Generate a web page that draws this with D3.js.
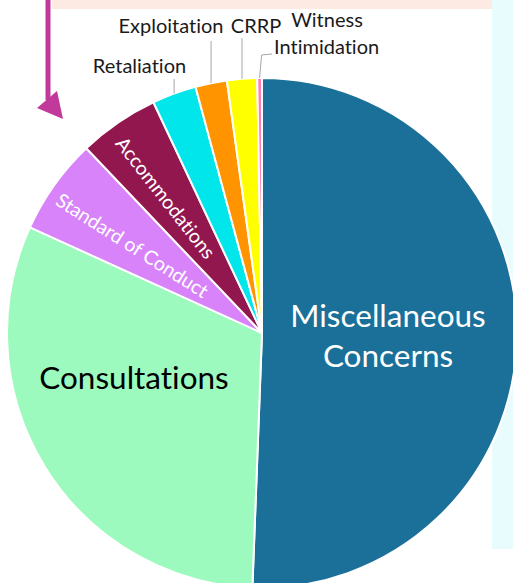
<!DOCTYPE html>
<html>
<head>
<meta charset="utf-8">
<script src="https://cdn.jsdelivr.net/npm/d3@7"></script>
<style>
  html, body { margin: 0; padding: 0; background: #ffffff; }
  svg { display: block; font-family: Lato, "Open Sans", sans-serif; font-variant-ligatures: none; font-feature-settings: "liga" 0, "clig" 0; }
</style>
</head>
<body>
<svg id="chart" width="513" height="583"></svg>
<script>
// ---- data ----
const categories = ["Miscellaneous Concerns", "Consultations", "Standard of Conduct", "Accommodations",
                    "Retaliation", "Exploitation", "CRRP", "Witness Intimidation"];
const values = [50.6, 31.2, 6.1, 5.1, 2.8, 2.0, 1.9, 0.3];
const colors = ["#1a7099", "#9dfabe", "#d883f9", "#93174f", "#00e6ea", "#ff9300", "#ffff00", "#ff7fb0"];

// ---- layout ----
const W = 513, H = 583;
const cx = 262, cy = 333, R = 255;
const svg = d3.select("#chart");

// background decorations
svg.append("rect").attr("x", 52).attr("y", 0).attr("width", 440).attr("height", 9).attr("fill", "#fdebe3");
svg.append("rect").attr("x", 492).attr("y", 0).attr("width", 21).attr("height", 549).attr("fill", "#e8fcfe");

// arrow
svg.append("line").attr("x1", 48).attr("y1", 0).attr("x2", 48).attr("y2", 100)
  .attr("stroke", "#c1399a").attr("stroke-width", 5);
svg.append("path").attr("d", "M37,108 L63,119 L57,91 Z").attr("fill", "#c1399a");

const pie = d3.pie().sort(null).value(d => d).startAngle(0).endAngle(2 * Math.PI);
const arcs = pie(values);
const arc = d3.arc().innerRadius(0).outerRadius(R);

const g = svg.append("g").attr("transform", `translate(${cx},${cy})`);
g.selectAll("path.slice").data(arcs).enter().append("path")
  .attr("class", "slice")
  .attr("d", arc)
  .attr("fill", (d, i) => colors[i])
  .attr("stroke", "#ffffff")
  .attr("stroke-width", 2)
  .attr("stroke-linejoin", "round");

// polar helper (angle clockwise from top)
function pt(a, r) { return [r * Math.sin(a), -r * Math.cos(a)]; }

// ---- inside labels ----
const misc = g.append("text").attr("fill", "#ffffff").attr("font-size", 31.5).attr("text-anchor", "middle");
misc.append("tspan").attr("x", 126).attr("y", -6).text("Miscellaneous");
misc.append("tspan").attr("x", 126).attr("y", 34).text("Concerns");

g.append("text").attr("x", -128).attr("y", 56).attr("fill", "#000000")
  .attr("font-size", 31.5).attr("text-anchor", "middle").text(categories[1]);

// rotated labels
const rotLabels = [
  { i: 2, dx: -129.5, dy: -88, rot: 32.5, size: 19.5 },
  { i: 3, dx: -96, dy: -135.5, rot: 52, size: 19.5 }
];
rotLabels.forEach(l => {
  g.append("text")
    .attr("transform", `translate(${l.dx},${l.dy}) rotate(${l.rot})`)
    .attr("fill", "#ffffff").attr("font-size", l.size)
    .attr("text-anchor", "middle").attr("dominant-baseline", "central")
    .text(categories[l.i]);
});

// ---- outside labels with leaders ----
const lead = "#a6a6a6";
const outs = [
  { i: 4, topY: 79, tx: 139.5, ty: 73 },
  { i: 5, topY: 41, tx: 171, ty: 33 },
  { i: 6, topY: 38, tx: 256, ty: 33 }
];
outs.forEach(o => {
  const a = (arcs[o.i].startAngle + arcs[o.i].endAngle) / 2;
  const p = pt(a, R);
  svg.append("line")
    .attr("x1", cx + p[0]).attr("y1", cy + p[1])
    .attr("x2", cx + p[0]).attr("y2", o.topY)
    .attr("stroke", lead).attr("stroke-width", 1);
  svg.append("text").attr("x", o.tx).attr("y", o.ty)
    .attr("font-size", 20).attr("text-anchor", "middle").attr("fill", "#1a1a1a")
    .text(categories[o.i]);
});
// Witness Intimidation
{
  const a = (arcs[7].startAngle + arcs[7].endAngle) / 2;
  const p = pt(a, R);
  svg.append("polyline")
    .attr("points", `${cx + p[0]},${cy + p[1]} ${cx + p[0] + 2},55 272,54`)
    .attr("fill", "none").attr("stroke", lead).attr("stroke-width", 1);
  const words = categories[7].split(" ");
  svg.append("text").attr("x", 327).attr("y", 27).attr("font-size", 20)
    .attr("text-anchor", "middle").attr("fill", "#1a1a1a").text(words[0]);
  svg.append("text").attr("x", 274).attr("y", 54).attr("font-size", 20)
    .attr("text-anchor", "start").attr("fill", "#1a1a1a").text(words[1]);
}
</script>
</body>
</html>
